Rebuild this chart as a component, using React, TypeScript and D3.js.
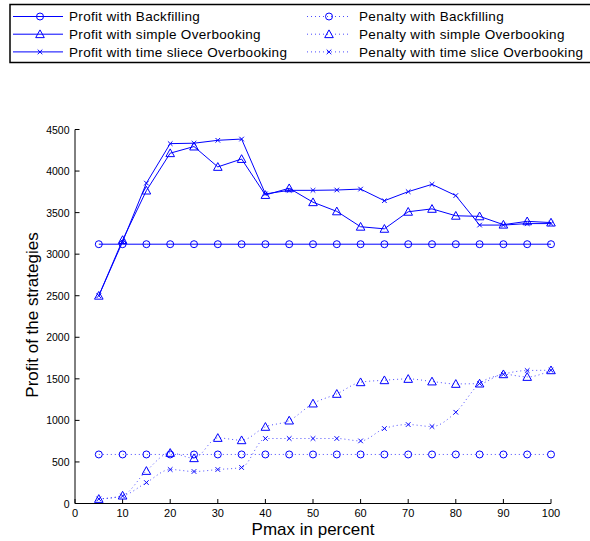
import React from "react";
import * as d3 from "d3";

const pmax = [5, 10, 15, 20, 25, 30, 35, 40, 45, 50, 55, 60, 65, 70, 75, 80, 85, 90, 95, 100];
const profitBackfilling = [3120, 3120, 3120, 3120, 3120, 3120, 3120, 3120, 3120, 3120, 3120, 3120, 3120, 3120, 3120, 3120, 3120, 3120, 3120, 3120];
const profitSimple = [2500, 3170, 3765, 4215, 4295, 4050, 4145, 3712, 3793, 3625, 3515, 3330, 3305, 3510, 3545, 3462, 3455, 3355, 3395, 3380];
const profitTimeSlice = [2500, 3150, 3855, 4330, 4335, 4370, 4385, 3725, 3768, 3768, 3772, 3783, 3643, 3752, 3840, 3705, 3350, 3350, 3368, 3368];
const penaltyBackfilling = [590, 590, 590, 590, 590, 590, 590, 590, 590, 590, 590, 590, 590, 590, 590, 590, 590, 590, 590, 590];
const penaltySimple = [55, 95, 392, 609, 545, 789, 761, 922, 998, 1203, 1319, 1459, 1483, 1499, 1468, 1439, 1443, 1555, 1523, 1603];
const penaltyTimeSlice = [55, 90, 252, 409, 385, 409, 433, 782, 782, 782, 782, 753, 902, 950, 926, 1098, 1443, 1555, 1600, 1603];
const xTicks = [0, 10, 20, 30, 40, 50, 60, 70, 80, 90, 100];
const yTicks = [0, 500, 1000, 1500, 2000, 2500, 3000, 3500, 4000, 4500];
const legendLabels = [
  "Profit with Backfilling",
  "Profit with simple Overbooking",
  "Profit with time sliece Overbooking",
  "Penalty with Backfilling",
  "Penalty with simple Overbooking",
  "Penalty with time slice Overbooking",
];

const BLUE = "#0000ff";
const FONT = "'Liberation Sans', Arial, Helvetica, sans-serif";

type Marker = "circle" | "triangle" | "x";

function MarkerShape({ type, x, y }: { type: Marker; x: number; y: number }) {
  if (type === "circle") return <circle cx={x} cy={y} r={3.5} fill="none" stroke={BLUE} strokeWidth={1} />;
  if (type === "triangle") {
    const s = 4.3;
    return (
      <path
        d={`M${x},${y - s}L${x + s},${y + s * 0.8}L${x - s},${y + s * 0.8}Z`}
        fill="none"
        stroke={BLUE}
        strokeWidth={1}
      />
    );
  }
  const s = 2.3;
  return (
    <path d={`M${x - s},${y - s}L${x + s},${y + s}M${x - s},${y + s}L${x + s},${y - s}`} stroke={BLUE} strokeWidth={1} />
  );
}

export default function App() {
  const x = d3.scaleLinear().domain([0, 100]).range([75, 551]);
  const y = d3.scaleLinear().domain([0, 4500]).range([503.5, 129.5]);

  const series: { vals: number[]; marker: Marker; dotted: boolean }[] = [
    { vals: profitBackfilling, marker: "circle", dotted: false },
    { vals: profitSimple, marker: "triangle", dotted: false },
    { vals: profitTimeSlice, marker: "x", dotted: false },
    { vals: penaltyBackfilling, marker: "circle", dotted: true },
    { vals: penaltySimple, marker: "triangle", dotted: true },
    { vals: penaltyTimeSlice, marker: "x", dotted: true },
  ];

  const straight = d3
    .line<number>()
    .x((_, i) => x(pmax[i]))
    .y((v) => y(v));
  const curved = d3
    .line<number>()
    .x((_, i) => x(pmax[i]))
    .y((v) => y(v))
    .curve(d3.curveMonotoneX);

  return (
    <svg width={590} height={541} style={{ position: "absolute", left: 0, top: 0, background: "#fff" }} fontFamily={FONT}>
      <rect x={0} y={0} width={590} height={541} fill="#fff" />
      {/* Legend */}
      <rect x={10} y={4.5} width={600} height={58} fill="#fff" stroke="#000" strokeWidth={1.5} />
      {legendLabels.map((lab, i) => {
        const col = Math.floor(i / 3);
        const row = i % 3;
        const ly = 16.5 + row * 17.7;
        const s = series[i];
        const lx0 = col === 0 ? 13 : 307;
        const lx1 = col === 0 ? 63 : 350;
        const mx = col === 0 ? 40 : 329;
        return (
          <g key={lab}>
            <line
              x1={lx0}
              x2={lx1}
              y1={ly}
              y2={ly}
              stroke={BLUE}
              strokeWidth={1}
              strokeDasharray={s.dotted ? "1,3" : undefined}
              opacity={s.dotted ? 0.7 : 1}
            />
            <MarkerShape type={s.marker} x={mx} y={ly} />
            <text x={col === 0 ? 69 : 359} y={ly + 4.8} fontSize={13.5} letterSpacing={0.32} fill="#000">
              {lab}
            </text>
          </g>
        );
      })}

      {/* Axes */}
      <line x1={75} x2={551} y1={503.5} y2={503.5} stroke="#000" strokeWidth={1} />
      <line x1={75} x2={75} y1={129.5} y2={503.5} stroke="#000" strokeWidth={1} />
      {xTicks.map((t) => (
        <g key={"x" + t}>
          <line x1={x(t)} x2={x(t)} y1={503.5} y2={499} stroke="#000" />
          <text x={x(t)} y={517} fontSize={11} textAnchor="middle" fill="#000">
            {t}
          </text>
        </g>
      ))}
      {yTicks.map((t) => (
        <g key={"y" + t}>
          <line x1={75} x2={79.5} y1={y(t)} y2={y(t)} stroke="#000" />
          <text x={69.5} y={y(t) + 4} fontSize={10.5} textAnchor="end" fill="#000">
            {t}
          </text>
        </g>
      ))}
      <text x={313} y={535} fontSize={17} textAnchor="middle" fill="#000">
        Pmax in percent
      </text>
      <text transform="translate(38,315) rotate(-90)" fontSize={17} textAnchor="middle" fill="#000">
        Profit of the strategies
      </text>

      {/* Series */}
      {series.map((s, si) => (
        <g key={"s" + si}>
          <path
            d={(s.dotted ? curved : straight)(s.vals) || ""}
            fill="none"
            stroke={BLUE}
            strokeWidth={1}
            strokeDasharray={s.dotted ? "1,3" : undefined}
            opacity={s.dotted ? 0.7 : 1}
          />
          {s.vals.map((v, i) => (
            <MarkerShape key={i} type={s.marker} x={x(pmax[i])} y={y(v)} />
          ))}
        </g>
      ))}
    </svg>
  );
}
